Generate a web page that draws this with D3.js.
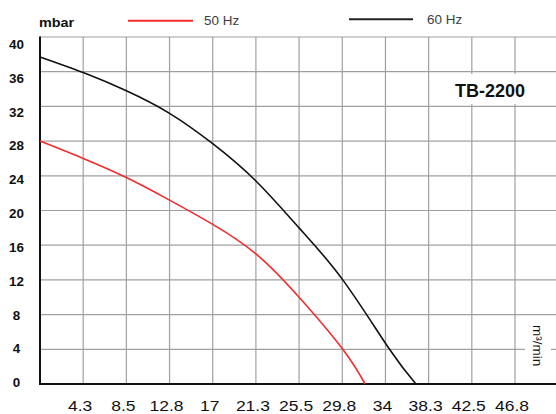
<!DOCTYPE html>
<html><head><meta charset="utf-8">
<script src="https://cdn.jsdelivr.net/npm/d3@7/dist/d3.min.js"></script>
<style>
html,body{margin:0;padding:0;background:#fff;}
svg{display:block;}
text{font-family:"Liberation Sans",Arial,sans-serif;}
</style></head>
<body>
<svg id="chart" width="556" height="414"></svg>
<script>
// ---- data ----
const xTickValues = [4.25, 8.5, 12.75, 17, 21.25, 25.5, 29.75, 34, 38.25, 42.5, 46.75];
const xTickLabels = ["4.3","8.5","12.8","17","21.3","25.5","29.8","34","38.3","42.5","46.8"];
const yTickValues = [0,4,8,12,16,20,24,28,32,36,40];
const seriesNames = ["50 Hz","60 Hz"];
const flow50 = [0, 4.25, 8.5, 12.75, 17, 21.25, 25.5, 29.8, 32];
const press50 = [28, 26, 23.8, 21.2, 18.4, 15, 10, 4, 0];
const flow60 = [0, 4.25, 8.5, 12.75, 17, 21.25, 25.5, 29.8, 34.4, 37];
const press60 = [37.7, 35.9, 33.8, 31.2, 27.7, 23.4, 18.0, 12, 4, 0];
const yUnit = "mbar";
const xUnit = "m³/min";
const modelName = "TB-2200";

// ---- chart ----
const svg = d3.select("#chart");
const x = d3.scaleLinear().domain([0, 46.75]).range([40, 515]);
const y = d3.scaleLinear().domain([0, 40]).range([384, 37]);
const yLab = d3.scaleLinear().domain([0, 40]).range([383, 44.5]);
const W = 556;

const grid = svg.append("g");
grid.selectAll("line.h").data(yTickValues.filter(v => v > 0)).enter().append("line")
  .attr("x1", x(0)).attr("x2", W).attr("y1", d => y(d)).attr("y2", d => y(d))
  .attr("stroke", "#a0a0a0").attr("stroke-width", 1.2);
grid.selectAll("line.v").data(xTickValues).enter().append("line")
  .attr("x1", d => x(d)).attr("x2", d => x(d)).attr("y1", y(40)).attr("y2", y(0))
  .attr("stroke", "#a0a0a0").attr("stroke-width", 1.2);

// white label backgrounds
svg.append("rect").attr("x", 450).attr("y", 74).attr("width", 80).attr("height", 30).attr("fill", "#fff");
svg.append("rect").attr("x", 525).attr("y", 320).attr("width", 26).attr("height", 58).attr("fill", "#fff");

// axes
svg.append("line").attr("x1", x(0)).attr("x2", x(0)).attr("y1", y(40) - 0.5).attr("y2", y(0) + 1)
  .attr("stroke", "#111").attr("stroke-width", 2);
svg.append("line").attr("x1", x(0) - 1).attr("x2", W).attr("y1", y(0)).attr("y2", y(0))
  .attr("stroke", "#111").attr("stroke-width", 2);

// curves
const line = d3.line().x(d => x(d[0])).y(d => y(d[1])).curve(d3.curveNatural);
svg.append("path").datum(flow50.map((f, i) => [f, press50[i]]))
  .attr("d", line).attr("fill", "none").attr("stroke", "#f22c2c").attr("stroke-width", 1.6);
svg.append("path").datum(flow60.map((f, i) => [f, press60[i]]))
  .attr("d", line).attr("fill", "none").attr("stroke", "#111").attr("stroke-width", 1.6);

// y labels
svg.selectAll("g.yl").data(yTickValues).enter().append("g")
  .attr("transform", d => `translate(16.5,${yLab(d) + 4.3})`)
  .append("text").attr("text-anchor", "middle").attr("transform", "scale(1.12,1)")
  .attr("font-size", 12).attr("font-weight", "bold").attr("fill", "#111")
  .text(d => d);

// x labels
svg.selectAll("g.xl").data(xTickValues).enter().append("g")
  .attr("transform", d => `translate(${x(d) - 3},411)`)
  .append("text").attr("text-anchor", "middle").attr("transform", "scale(1.25,1)")
  .attr("font-size", 14).attr("fill", "#111")
  .text((d, i) => xTickLabels[i]);

// y unit
svg.append("g").attr("transform", "translate(39,26.5)")
  .append("text").attr("transform", "scale(1.2,1)")
  .attr("font-size", 12).attr("font-weight", "bold").attr("fill", "#111").text(yUnit);

// legend
const legend = [
  {name: seriesNames[0], color: "#f22c2c", x1: 128, x2: 193, ly: 20.7, tx: 204},
  {name: seriesNames[1], color: "#222", x1: 349, x2: 413, ly: 19.3, tx: 427}
];
legend.forEach(l => {
  svg.append("line").attr("x1", l.x1).attr("x2", l.x2).attr("y1", l.ly).attr("y2", l.ly)
    .attr("stroke", l.color).attr("stroke-width", 2);
  svg.append("g").attr("transform", `translate(${l.tx},${l.ly + 4.5})`)
    .append("text").attr("transform", "scale(1.12,1)")
    .attr("font-size", 12).attr("fill", "#3a3f45").text(l.name);
});

// model name
svg.append("text").attr("x", 455).attr("y", 97).attr("font-size", 18).attr("font-weight", "bold")
  .attr("fill", "#111").text(modelName);

// x unit (rotated)
svg.append("text").attr("transform", "translate(533,325) rotate(90)")
  .attr("font-size", 13.5).attr("fill", "#111").text(xUnit);
</script>
</body></html>
